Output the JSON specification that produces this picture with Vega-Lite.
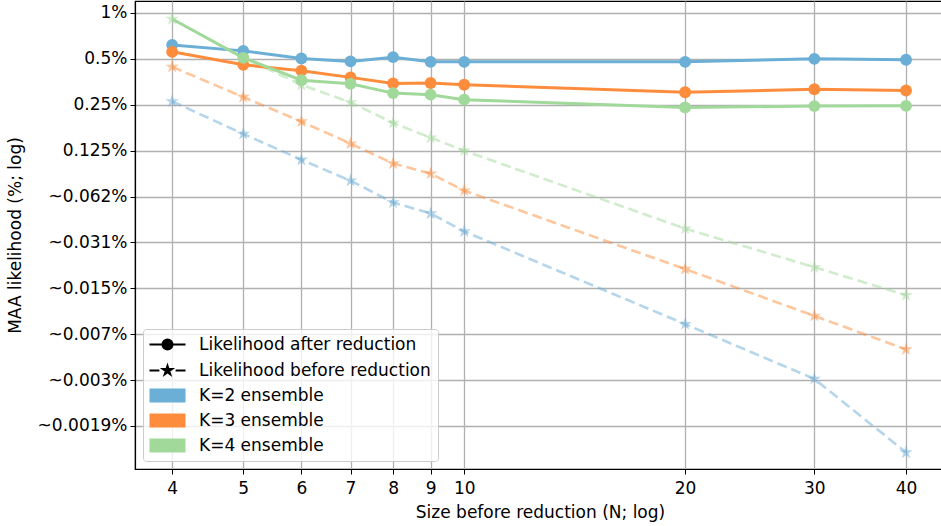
{
  "$schema": "https://vega.github.io/schema/vega-lite/v6.json",
  "autosize": {"type": "none"},
  "padding": {"left": 135, "top": 1, "right": 0, "bottom": 57},
  "width": 810,
  "height": 468,
  "background": "white",
  "config": {
    "font": "DejaVu Sans",
    "view": {"stroke": "black", "strokeWidth": 1.2},
    "axis": {
      "labelFont": "DejaVu Sans",
      "titleFont": "DejaVu Sans",
      "labelFontSize": 17,
      "titleFontSize": 17,
      "labelColor": "black",
      "titleColor": "black",
      "titleFontWeight": "normal",
      "domainColor": "black",
      "tickColor": "black",
      "gridColor": "#b0b0b0",
      "gridWidth": 1.3,
      "tickSize": 5,
      "domainWidth": 1.2
    }
  },
  "data": {
    "values": [
      {"N": 4, "K": "K=2 ensemble", "type": "before", "v": 0.263},
      {"N": 5, "K": "K=2 ensemble", "type": "before", "v": 0.161},
      {"N": 6, "K": "K=2 ensemble", "type": "before", "v": 0.109},
      {"N": 7, "K": "K=2 ensemble", "type": "before", "v": 0.0794},
      {"N": 8, "K": "K=2 ensemble", "type": "before", "v": 0.0571},
      {"N": 9, "K": "K=2 ensemble", "type": "before", "v": 0.0484},
      {"N": 10, "K": "K=2 ensemble", "type": "before", "v": 0.0369},
      {"N": 20, "K": "K=2 ensemble", "type": "before", "v": 0.0091},
      {"N": 30, "K": "K=2 ensemble", "type": "before", "v": 0.00398},
      {"N": 40, "K": "K=2 ensemble", "type": "before", "v": 0.00131},
      {"N": 4, "K": "K=3 ensemble", "type": "before", "v": 0.443},
      {"N": 5, "K": "K=3 ensemble", "type": "before", "v": 0.281},
      {"N": 6, "K": "K=3 ensemble", "type": "before", "v": 0.194},
      {"N": 7, "K": "K=3 ensemble", "type": "before", "v": 0.139},
      {"N": 8, "K": "K=3 ensemble", "type": "before", "v": 0.103},
      {"N": 9, "K": "K=3 ensemble", "type": "before", "v": 0.0884},
      {"N": 10, "K": "K=3 ensemble", "type": "before", "v": 0.0683},
      {"N": 20, "K": "K=3 ensemble", "type": "before", "v": 0.0209},
      {"N": 30, "K": "K=3 ensemble", "type": "before", "v": 0.0103},
      {"N": 40, "K": "K=3 ensemble", "type": "before", "v": 0.00621},
      {"N": 4, "K": "K=4 ensemble", "type": "before", "v": 0.913},
      {"N": 5, "K": "K=4 ensemble", "type": "before", "v": 0.508},
      {"N": 6, "K": "K=4 ensemble", "type": "before", "v": 0.338},
      {"N": 7, "K": "K=4 ensemble", "type": "before", "v": 0.259},
      {"N": 8, "K": "K=4 ensemble", "type": "before", "v": 0.19},
      {"N": 9, "K": "K=4 ensemble", "type": "before", "v": 0.152},
      {"N": 10, "K": "K=4 ensemble", "type": "before", "v": 0.125},
      {"N": 20, "K": "K=4 ensemble", "type": "before", "v": 0.0385},
      {"N": 30, "K": "K=4 ensemble", "type": "before", "v": 0.0215},
      {"N": 40, "K": "K=4 ensemble", "type": "before", "v": 0.0141},
      {"N": 4, "K": "K=2 ensemble", "type": "after", "v": 0.617},
      {"N": 5, "K": "K=2 ensemble", "type": "after", "v": 0.564},
      {"N": 6, "K": "K=2 ensemble", "type": "after", "v": 0.503},
      {"N": 7, "K": "K=2 ensemble", "type": "after", "v": 0.481},
      {"N": 8, "K": "K=2 ensemble", "type": "after", "v": 0.513},
      {"N": 9, "K": "K=2 ensemble", "type": "after", "v": 0.478},
      {"N": 10, "K": "K=2 ensemble", "type": "after", "v": 0.478},
      {"N": 20, "K": "K=2 ensemble", "type": "after", "v": 0.478},
      {"N": 30, "K": "K=2 ensemble", "type": "after", "v": 0.5},
      {"N": 40, "K": "K=2 ensemble", "type": "after", "v": 0.493},
      {"N": 4, "K": "K=3 ensemble", "type": "after", "v": 0.556},
      {"N": 5, "K": "K=3 ensemble", "type": "after", "v": 0.457},
      {"N": 6, "K": "K=3 ensemble", "type": "after", "v": 0.418},
      {"N": 7, "K": "K=3 ensemble", "type": "after", "v": 0.378},
      {"N": 8, "K": "K=3 ensemble", "type": "after", "v": 0.345},
      {"N": 9, "K": "K=3 ensemble", "type": "after", "v": 0.347},
      {"N": 10, "K": "K=3 ensemble", "type": "after", "v": 0.338},
      {"N": 20, "K": "K=3 ensemble", "type": "after", "v": 0.302},
      {"N": 30, "K": "K=3 ensemble", "type": "after", "v": 0.316},
      {"N": 40, "K": "K=3 ensemble", "type": "after", "v": 0.31},
      {"N": 4, "K": "K=4 ensemble", "type": "after", "v": 0.913},
      {"N": 5, "K": "K=4 ensemble", "type": "after", "v": 0.508},
      {"N": 6, "K": "K=4 ensemble", "type": "after", "v": 0.362},
      {"N": 7, "K": "K=4 ensemble", "type": "after", "v": 0.343},
      {"N": 8, "K": "K=4 ensemble", "type": "after", "v": 0.298},
      {"N": 9, "K": "K=4 ensemble", "type": "after", "v": 0.291},
      {"N": 10, "K": "K=4 ensemble", "type": "after", "v": 0.27},
      {"N": 20, "K": "K=4 ensemble", "type": "after", "v": 0.24},
      {"N": 30, "K": "K=4 ensemble", "type": "after", "v": 0.245},
      {"N": 40, "K": "K=4 ensemble", "type": "after", "v": 0.246}
    ]
  },
  "encoding": {
    "x": {
      "field": "N", "type": "quantitative",
      "scale": {"type": "log", "domain": [3.56, 45.2], "nice": false},
      "axis": {
        "values": [4, 5, 6, 7, 8, 9, 10, 20, 30, 40],
        "format": "d",
        "title": "Size before reduction (N; log)",
        "grid": true,
        "labelPadding": 6,
        "titlePadding": 8
      }
    },
    "y": {
      "field": "v", "type": "quantitative",
      "scale": {"type": "log", "base": 2, "domain": [0.00102, 1.198], "nice": false},
      "axis": {
        "values": [1, 0.5, 0.25, 0.125, 0.0625, 0.03125, 0.015625, 0.0078125, 0.00390625, 0.001953125],
        "labelExpr": "datum.value >= 0.1 ? format(datum.value, '') + '%' : datum.value > 0.06 ? '~0.062%' : datum.value > 0.03 ? '~0.031%' : datum.value > 0.015 ? '~0.015%' : datum.value > 0.007 ? '~0.007%' : datum.value > 0.003 ? '~0.003%' : '~0.0019%'",
        "title": "MAA likelihood (%; log)",
        "grid": true,
        "labelPadding": 3,
        "titlePadding": 13
      }
    },
    "color": {
      "field": "K", "type": "nominal",
      "scale": {
        "domain": ["Likelihood after reduction", "Likelihood before reduction", "K=2 ensemble", "K=3 ensemble", "K=4 ensemble"],
        "range": ["black", "black", "#6baed6", "#fd8d3c", "#a1d99b"]
      },
      "legend": {
        "title": null,
        "orient": "bottom-left",
        "offset": 8,
        "symbolSize": 324,
        "labelFont": "DejaVu Sans",
        "labelFontSize": 17,
        "labelColor": "black",
        "labelOffset": 32,
        "labelLimit": 500,
        "rowPadding": 7,
        "padding": 7,
        "fillColor": "rgba(255,255,255,0.8)",
        "strokeColor": "#cccccc",
        "cornerRadius": 3,
        "symbolOpacity": 1,
        "encode": {
          "symbols": {
            "update": {
              "shape": {"signal": "datum.value === 'Likelihood after reduction' ? 'M-1,0H3M1.55,0A0.55,0.55,0,1,1,0.45,0A0.55,0.55,0,1,1,1.55,0Z' : datum.value === 'Likelihood before reduction' ? 'M-1,0H0.1M1.9,0H3M1,-0.5L1.112,-0.155L1.476,-0.155L1.182,0.059L1.294,0.405L1,0.191L0.706,0.405L0.818,0.059L0.524,-0.155L0.888,-0.155Z' : 'M-1,-0.78H3V0.78H-1Z'"},
              "fill": {"signal": "datum.value === 'Likelihood after reduction' || datum.value === 'Likelihood before reduction' ? 'black' : scale('color', datum.value)"},
              "stroke": {"signal": "datum.value === 'Likelihood after reduction' || datum.value === 'Likelihood before reduction' ? 'black' : scale('color', datum.value)"},
              "strokeWidth": {"signal": "datum.value === 'Likelihood after reduction' || datum.value === 'Likelihood before reduction' ? 2.2 : 0"},
              "strokeDash": {"value": []},
              "opacity": {"value": 1}
            }
          }
        }
      }
    }
  },
  "layer": [
    {
      "transform": [{"filter": "datum.type === 'before'"}],
      "mark": {"type": "line", "strokeWidth": 2.6, "strokeDash": [10, 5], "opacity": 0.5},
      "encoding": {"detail": {"field": "K"}}
    },
    {
      "transform": [{"filter": "datum.type === 'before'"}],
      "mark": {"type": "point", "filled": true, "opacity": 0.5, "size": 200,
               "shape": "M0,-1L0.225,-0.309L0.951,-0.309L0.363,0.118L0.588,0.809L0,0.382L-0.588,0.809L-0.363,0.118L-0.951,-0.309L-0.225,-0.309Z"},
      "encoding": {}
    },
    {
      "transform": [{"filter": "datum.type === 'after'"}],
      "mark": {"type": "line", "strokeWidth": 3},
      "encoding": {"detail": {"field": "K"}}
    },
    {
      "transform": [{"filter": "datum.type === 'after' && !(datum.K === 'K=4 ensemble' && datum.N === 4)"}],
      "mark": {"type": "point", "filled": true, "opacity": 1, "size": 140, "shape": "circle"},
      "encoding": {}
    }
  ]
}
